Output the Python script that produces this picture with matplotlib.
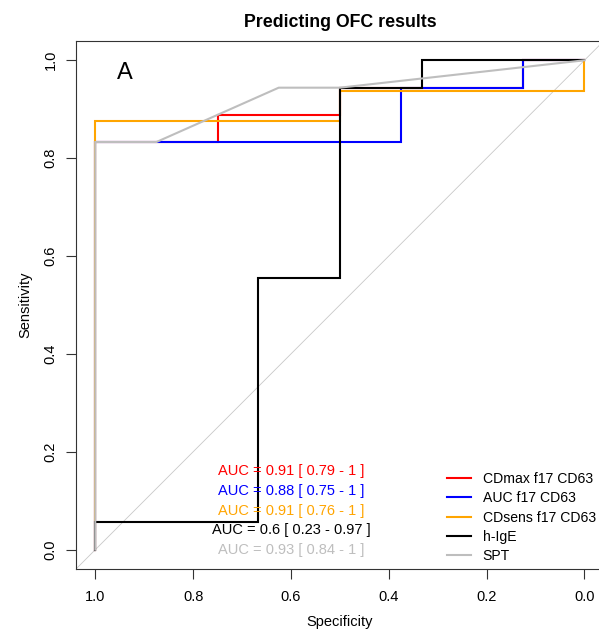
import matplotlib
matplotlib.use("Agg")
import matplotlib.pyplot as plt

plt.rcParams['font.family'] = ['Liberation Sans', 'DejaVu Sans']

# ---- data (ROC curve vertices: specificity, sensitivity) ----
series_names = ["CDmax f17 CD63", "AUC f17 CD63", "CDsens f17 CD63", "h-IgE", "SPT"]
series_colors = ["#FF0000", "#0000FF", "#FFA500", "#000000", "#BEBEBE"]

cdmax_spec = [1.0, 1.0, 0.75, 0.75, 0.5, 0.5, 0.125, 0.125, 0.0]
cdmax_sens = [0.0, 0.833, 0.833, 0.889, 0.889, 0.944, 0.944, 1.0, 1.0]

auc_spec = [1.0, 1.0, 0.375, 0.375, 0.125, 0.125, 0.0]
auc_sens = [0.0, 0.833, 0.833, 0.944, 0.944, 1.0, 1.0]

cdsens_spec = [1.0, 1.0, 0.5, 0.5, 0.0, 0.0]
cdsens_sens = [0.0, 0.875, 0.875, 0.9375, 0.9375, 1.0]

hige_spec = [1.0, 1.0, 0.667, 0.667, 0.5, 0.5, 0.333, 0.333, 0.0]
hige_sens = [0.0, 0.056, 0.056, 0.556, 0.556, 0.944, 0.944, 1.0, 1.0]

spt_spec = [1.0, 1.0, 0.875, 0.625, 0.5, 0.0]
spt_sens = [0.0, 0.833, 0.833, 0.944, 0.944, 1.0]

auc_labels = ["AUC = 0.91 [ 0.79 - 1 ]",
              "AUC = 0.88 [ 0.75 - 1 ]",
              "AUC = 0.91 [ 0.76 - 1 ]",
              "AUC = 0.6 [ 0.23 - 0.97 ]",
              "AUC = 0.93 [ 0.84 - 1 ]"]
auc_y = [0.16, 0.12, 0.08, 0.04, 0.0]
auc_x = 0.6

ticks = [1.0, 0.8, 0.6, 0.4, 0.2, 0.0]
tick_labels = ["1.0", "0.8", "0.6", "0.4", "0.2", "0.0"]

FS = 10.5

W, H = 599, 635
fig = plt.figure(figsize=(W / 100, H / 100), dpi=100)
left_px, right_px, top_px, bottom_px = 75.7, 604.0, 40.7, 569.3
ax = fig.add_axes([left_px / W, (H - bottom_px) / H,
                   (right_px - left_px) / W, (bottom_px - top_px) / H])

ax.set_xlim(1.04, -0.04)
ax.set_ylim(-0.04, 1.04)

# diagonal reference
ax.axline((0, 1), (1, 0), color="#C8C8C8", lw=0.6, zorder=1)

lw = 1.5
all_spec = [cdmax_spec, auc_spec, cdsens_spec, hige_spec, spt_spec]
all_sens = [cdmax_sens, auc_sens, cdsens_sens, hige_sens, spt_sens]
for i, (sx, sy) in enumerate(zip(all_spec, all_sens)):
    ax.plot(sx, sy, color=series_colors[i], lw=lw, label=series_names[i],
            zorder=2 + i, solid_joinstyle='miter')

for lab, y, c in zip(auc_labels, auc_y, series_colors):
    ax.text(auc_x, y, lab, color=c, ha="center", va="center", fontsize=FS, zorder=10)

ax.text(0.939, 0.973, "A", fontsize=17, ha="center", va="center")

ax.set_xticks(ticks)
ax.set_xticklabels(tick_labels)
ax.set_yticks(ticks)
ax.set_yticklabels(tick_labels, rotation=90, va="center")
ax.tick_params(axis="both", direction="out", length=7, width=0.8, labelsize=FS,
               color="#333333")
ax.tick_params(axis="x", pad=8)
ax.tick_params(axis="y", pad=6)
for s in ax.spines.values():
    s.set_linewidth(0.8)
    s.set_color("#333333")

ax.set_xlabel("Specificity", fontsize=FS, labelpad=8)
ax.set_ylabel("Sensitivity", fontsize=FS, labelpad=8)
ax.set_title("Predicting OFC results", fontsize=12.8, fontweight="bold", pad=10)

leg = ax.legend(loc="upper left", bbox_to_anchor=(447 / W, (H - 472) / H),
                bbox_transform=fig.transFigure, frameon=False, fontsize=10.1,
                handlelength=1.7, handletextpad=0.85, labelspacing=0.38,
                borderpad=0, borderaxespad=0)
for l in leg.get_lines():
    l.set_linewidth(1.5)

fig.savefig("out.png", dpi=100)
